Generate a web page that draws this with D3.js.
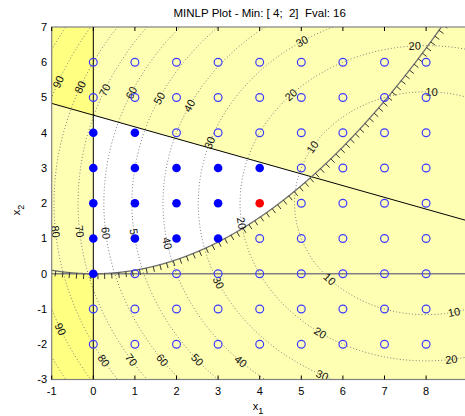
<!DOCTYPE html>
<html><head><meta charset="utf-8">
<script src="https://cdn.jsdelivr.net/npm/d3@7"></script>
<style>
body{margin:0;background:#fff;}
text{font-family:"Liberation Sans",Arial,Helvetica,sans-serif;}
</style>
</head><body>
<svg id="chart" width="465" height="416"></svg>
<script>
// ---------------- data ----------------
const titleText = "MINLP Plot - Min: [ 4;  2]  Fval: 16";
const xTicks = [-1, 0, 1, 2, 3, 4, 5, 6, 7, 8];
const yTicks = [-3, -2, -1, 0, 1, 2, 3, 4, 5, 6, 7];
const xDomain = [-1, 9];
const yDomain = [-3, 7];
const gridX1 = [0, 1, 2, 3, 4, 5, 6, 7, 8];
const gridX2 = [-2, -1, 0, 1, 2, 3, 4, 5, 6];
const feasiblePts = [[0,0],[0,1],[0,2],[0,3],[0,4],[1,1],[1,2],[1,3],[1,4],
                     [2,1],[2,2],[2,3],[3,1],[3,2],[3,3],[4,3]];
const optimumPt = [4, 2];
const objCenter = [8, 2];            // f = (x1-8)^2 + (x2-2)^2
const contourLevels = [10, 20, 30, 40, 50, 60, 70, 80, 90, 100];
const linA = [1, 3], linB = 13.5;    // x1 + 3 x2 <= 13.5
const paraK = 0.1;                   // x2 >= 0.1 x1^2
// contour label anchors [level, x1, x2]
const contourLabels = [
  [90,-0.78,5.42],[80,-0.30,5.29],[70,0.28,5.21],[60,0.95,5.12],[50,1.64,4.95],[40,2.37,4.74],
  [30,2.85,3.70],[20,4.81,5.02],[30,5.05,6.54],[10,5.33,3.56],[20,7.73,6.40],[10,8.13,5.12],
  [80,-0.96,1.19],[70,-0.44,1.19],[60,0.24,1.15],[50,0.92,1.10],[40,1.76,0.86],[20,3.53,1.43],
  [30,2.97,-0.27],[10,5.65,-0.18],[20,5.41,-1.74],[10,8.69,-1.17],[20,8.62,-2.52],
  [90,-0.84,-1.59],[80,0.20,-2.49],[70,0.84,-2.49],[60,1.60,-2.49],[50,2.44,-2.49],[40,3.49,-2.54],[30,5.49,-2.90]
];

// ---------------- layout ----------------
const L = 51.7, R = 467.7, T = 27, B = 379.5;
const x = d3.scaleLinear().domain(xDomain).range([L, R]);
const y = d3.scaleLinear().domain(yDomain).range([B, T]);
const svg = d3.select("#chart");
const f = (a, b) => (a - objCenter[0]) ** 2 + (b - objCenter[1]) ** 2;

svg.append("defs").append("clipPath").attr("id", "clip")
  .append("rect").attr("x", L).attr("y", T).attr("width", R - L).attr("height", B - T);

const plot = svg.append("g").attr("clip-path", "url(#clip)");
const light = "#ffffb4", dark = "#ffff82";

plot.append("rect").attr("x", L).attr("y", T).attr("width", R - L).attr("height", B - T).attr("fill", light);

const lineY = x1 => (linB - linA[0] * x1) / linA[1];
const paraY = x1 => paraK * x1 * x1;
const toPx = p => [x(p[0]), y(p[1])];
const poly = d3.line().x(d => x(d[0])).y(d => y(d[1]));

plot.append("path").attr("fill", dark)
  .attr("d", poly([[xDomain[0], lineY(xDomain[0])], [0, lineY(0)], [0, yDomain[1]], [xDomain[0], yDomain[1]]]) + "Z");
plot.append("path").attr("fill", dark)
  .attr("d", poly([[xDomain[0], yDomain[0]], [0, yDomain[0]], [0, 0], [xDomain[0], 0]]) + "Z");

const xInt = (-(linA[0] / linA[1]) + Math.sqrt((linA[0] / linA[1]) ** 2 + 4 * paraK * linB / linA[1])) / (2 * paraK);
const feas = [];
d3.range(0, xInt, 0.02).forEach(v => feas.push([v, paraY(v)]));
feas.push([xInt, paraY(xInt)]);
feas.push([0, lineY(0)]);
plot.append("path").attr("fill", "#ffffff").attr("d", poly(feas) + "Z");

// contours
const gx0 = -2, gy0 = -4, step = 0.04;
const nx = Math.round(12 / step) + 1, ny = Math.round(12 / step) + 1;
const vals = new Array(nx * ny);
for (let j = 0; j < ny; j++) for (let i = 0; i < nx; i++) vals[j * nx + i] = -f(gx0 + i * step, gy0 + j * step);
const proj = d3.geoTransform({
  point: function (gx, gy) {
    this.stream.point(x(gx0 + (gx - 0.5) * step), y(gy0 + (gy - 0.5) * step));
  }
});
const gp = d3.geoPath(proj);
const cont = d3.contours().size([nx, ny]).thresholds(contourLevels.map(v => -v))(vals);
plot.append("g").selectAll("path").data(cont).join("path")
  .attr("d", gp).attr("fill", "none").attr("stroke", "#7a7a7a").attr("stroke-width", 1)
  .attr("stroke-dasharray", "1,2.2");

// constraint lines
plot.append("path").attr("d", poly([[xDomain[0], lineY(xDomain[0])], [xDomain[1], lineY(xDomain[1])]]))
  .attr("stroke", "#000").attr("stroke-width", 1).attr("fill", "none");
plot.append("line").attr("x1", x(0)).attr("x2", x(0)).attr("y1", T).attr("y2", B)
  .attr("stroke", "#000").attr("stroke-width", 1);
plot.append("line").attr("x1", L).attr("x2", R).attr("y1", y(0)).attr("y2", y(0))
  .attr("stroke", "#808080").attr("stroke-width", 1.6);

// parabola with hatch ticks
const xTop = Math.sqrt(yDomain[1] / paraK) + 0.05;
const para = d3.range(xDomain[0], xTop, 0.01).map(v => [v, paraY(v)]);
plot.append("path").attr("d", poly(para)).attr("fill", "none").attr("stroke", "#707070").attr("stroke-width", 1.3);
const pp = para.map(toPx);
let acc = 0, next = 4;
const hatch = [];
for (let i = 1; i < pp.length; i++) {
  const dx = pp[i][0] - pp[i - 1][0], dy = pp[i][1] - pp[i - 1][1];
  const seg = Math.hypot(dx, dy);
  acc += seg;
  if (acc >= next) {
    const nxv = -dy / seg, nyv = dx / seg;
    hatch.push([pp[i][0], pp[i][1], pp[i][0] + 5.5 * nxv, pp[i][1] + 5.5 * nyv]);
    next += 7;
  }
}
plot.append("g").selectAll("line").data(hatch).join("line")
  .attr("x1", d => d[0]).attr("y1", d => d[1]).attr("x2", d => d[2]).attr("y2", d => d[3])
  .attr("stroke", "#222").attr("stroke-width", 0.9);

// contour labels (snapped onto contour)
const lab = contourLabels.map(([lv, a, b]) => {
  const dxv = a - objCenter[0], dyv = b - objCenter[1];
  const r = Math.hypot(dxv, dyv), s = Math.sqrt(lv) / r;
  const px = objCenter[0] + dxv * s, py = objCenter[1] + dyv * s;
  const tx = -(py - objCenter[1]), ty = (px - objCenter[0]);
  let ang = Math.atan2(-ty * (y(0) - y(1)), tx * (x(1) - x(0))) * 180 / Math.PI;
  if (ang > 90) ang -= 180;
  if (ang < -90) ang += 180;
  return {lv, X: x(px), Y: y(py), ang};
});
plot.append("g").selectAll("text").data(lab).join("text")
  .attr("transform", d => `translate(${d.X},${d.Y}) rotate(${d.ang})`)
  .attr("text-anchor", "middle").attr("dy", "0.35em")
  .attr("font-size", 11).attr("fill", "#111").text(d => d.lv);

// grid points
const allPts = [];
gridX2.forEach(b => gridX1.forEach(a => allPts.push([a, b])));
const isFeas = p => feasiblePts.some(q => q[0] === p[0] && q[1] === p[1]) || (p[0] === optimumPt[0] && p[1] === optimumPt[1]);
plot.append("g").selectAll("circle").data(allPts.filter(p => !isFeas(p))).join("circle")
  .attr("cx", d => x(d[0])).attr("cy", d => y(d[1])).attr("r", 3.9)
  .attr("fill", "none").attr("stroke", "#3c3cff").attr("stroke-width", 1.2);
plot.append("g").selectAll("circle").data(feasiblePts).join("circle")
  .attr("cx", d => x(d[0])).attr("cy", d => y(d[1])).attr("r", 4.3).attr("fill", "#0000ff");
plot.append("circle").attr("cx", x(optimumPt[0])).attr("cy", y(optimumPt[1])).attr("r", 4.3).attr("fill", "#ff0000");

// axes frame
svg.append("rect").attr("x", L).attr("y", T).attr("width", R - L).attr("height", B - T)
  .attr("fill", "none").attr("stroke", "#808080").attr("stroke-width", 1.2);

const tk = svg.append("g");
xTicks.forEach(v => {
  tk.append("line").attr("x1", x(v)).attr("x2", x(v)).attr("y1", B).attr("y2", B - 4).attr("stroke", "#000");
  tk.append("line").attr("x1", x(v)).attr("x2", x(v)).attr("y1", T).attr("y2", T + 4).attr("stroke", "#000");
});
svg.append("g").selectAll("text").data(xTicks).join("text")
  .attr("x", d => x(d)).attr("y", 395).attr("text-anchor", "middle")
  .attr("font-size", 11).attr("fill", "#000").text(d => d);
svg.append("g").selectAll("text").data(yTicks).join("text")
  .attr("x", 47).attr("y", d => y(d)).attr("dy", "0.35em").attr("text-anchor", "end")
  .attr("font-size", 11).attr("fill", "#000").text(d => d);

svg.append("text").attr("x", (L + R) / 2).attr("y", 17).attr("text-anchor", "middle")
  .attr("font-size", 11.5).style("white-space", "pre").text(titleText);
const xl = svg.append("text").attr("x", 258).attr("y", 410).attr("text-anchor", "middle").attr("font-size", 11);
xl.append("tspan").text("x");
xl.append("tspan").attr("dy", 4).attr("font-size", 9).text("1");
const yl = svg.append("text").attr("transform", "translate(20,210) rotate(-90)").attr("text-anchor", "middle").attr("font-size", 11);
yl.append("tspan").text("x");
yl.append("tspan").attr("dy", 4).attr("font-size", 9).text("2");
</script>
</body></html>
